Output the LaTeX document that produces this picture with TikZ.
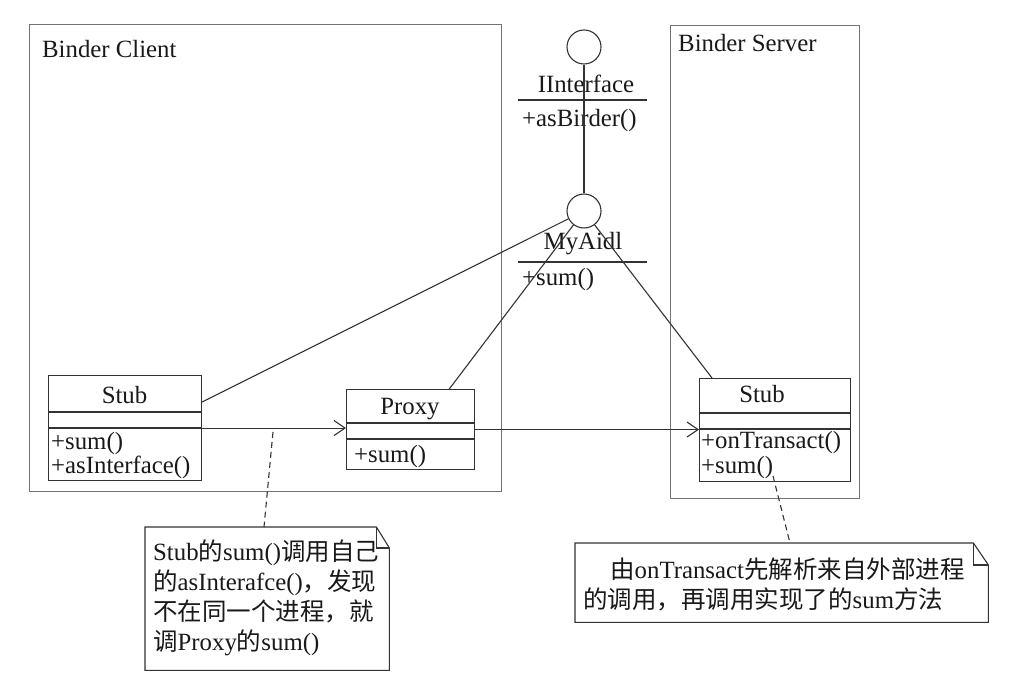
\documentclass[tikz,border=0pt]{standalone}
\usepackage{fontspec}
\setmainfont{Liberation Serif}
\newfontfamily\cjkf{Noto Sans CJK SC}
\usetikzlibrary{calc,arrows.meta}
\newcommand{\zh}[1]{{\cjkf\fontsize{24.5}{30}\selectfont #1}}
\begin{document}
\begin{tikzpicture}[x=1pt,y=-1pt,
  txt/.style={inner sep=0pt,anchor=base west,text=black!90,font=\fontsize{24.8}{30}\selectfont},
  ctxt/.style={txt,anchor=base},
  frame/.style={draw=black!55,line width=1.4pt,anchor=north west,inner sep=0pt},
  cls/.style={draw=black!80,line width=1.1pt,anchor=north west,inner sep=0pt},
  ln/.style={draw=black!80,line width=1.1pt},
  iface/.style={circle,draw=black!80,line width=1.1pt,minimum size=34pt,inner sep=0pt},
  arr/.style={ln,-{Straight Barb[length=11pt,width=15pt,line width=1.1pt]}},
  dsh/.style={ln,dash pattern=on 6pt off 4pt},
  blank/.style={anchor=north west,inner sep=0pt}
]
\useasboundingbox[fill=white] (0,0) rectangle (1014,684);

% frames
\node[frame,minimum width=472pt,minimum height=467pt] (client) at (29,24) {};
\node[frame,minimum width=189pt,minimum height=473pt] (server) at (670,25) {};
\node[txt] (clientlbl) at (42,58) {Binder Client};
\node[txt] (serverlbl) at (678,52) {Binder Server};

% interfaces
\node[iface] (iif) at (584,47) {};
\node[ctxt] (iiftxt) at (586,93) {IInterface};
\draw[ln] ($(iif)+(-66,53)$) -- ($(iif)+(63,53)$);
\node[txt] (iifop) at (522,127) {+asBirder()};

\node[iface] (aidl) at (584,211) {};
\node[ctxt] (aidltxt) at (583,250) {MyAidl};
\draw[ln] ($(aidl)+(-66,51)$) -- ($(aidl)+(63,51)$);
\node[txt] (aidlop) at (522,286) {+sum()};
\draw[ln] (iif) -- (aidl);

% client stub
\node[cls,minimum width=153pt,minimum height=105pt] (stubC) at (48,375) {};
\draw[ln] ($(stubC.north west)+(0,37)$) -- ($(stubC.north east)+(0,37)$);
\draw[ln] ($(stubC.north west)+(0,53)$) -- ($(stubC.north east)+(0,53)$);
\node[ctxt] (stubCname) at (124.5,403) {Stub};
\node[txt] (stubCop1) at (51,449) {+sum()};
\node[txt] (stubCop2) at (51,473) {+asInterface()};

% proxy
\node[cls,minimum width=128pt,minimum height=80pt] (proxy) at (346,389) {};
\draw[ln] ($(proxy.north west)+(0,34)$) -- ($(proxy.north east)+(0,34)$);
\draw[ln] ($(proxy.north west)+(0,50)$) -- ($(proxy.north east)+(0,50)$);
\node[ctxt] (proxyname) at (410,414) {Proxy};
\node[txt] (proxyop) at (354,462) {+sum()};

% server stub
\node[cls,minimum width=151pt,minimum height=103pt] (stubS) at (699,378) {};
\draw[ln] ($(stubS.north west)+(0,35)$) -- ($(stubS.north east)+(0,35)$);
\draw[ln] ($(stubS.north west)+(0,51)$) -- ($(stubS.north east)+(0,51)$);
\node[ctxt] (stubSname) at (762,402) {Stub};
\node[txt] (stubSop1) at (701,448) {+onTransact()};
\node[txt] (stubSop2) at (701,473) {+sum()};

% connectors to MyAidl
\draw[ln] ($(stubC.north east)+(0,27)$) -- (aidl);
\draw[ln] ($(proxy.north west)!0.8!(proxy.north east)$) -- (aidl);
\draw[ln] ($(stubS.north west)+(13,0)$) -- (aidl);

% calls
\draw[arr] (stubC.east) -- (stubC.east -| proxy.west);
\draw[arr] (proxy.east) -- (proxy.east -| stubS.west);

% notes
\node[blank,minimum width=244pt,minimum height=143pt] (noteL) at (145,527) {};
\draw[ln] (noteL.south west) -- (noteL.north west) -- ($(noteL.north east)+(-13,0)$)
  -- ($(noteL.north east)+(0,21)$) -- (noteL.south east) -- cycle;
\draw[ln] ($(noteL.north east)+(-13,0)$) -- ++(0,21) -- ($(noteL.north east)+(0,21)$);
\node[txt] (nl1) at (153,560) {Stub\zh{的}sum()\zh{调用自己}};
\node[txt] (nl2) at (153,590) {\zh{的}asInterafce()\zh{，发现}};
\node[txt] (nl3) at (153,620) {\zh{不在同一个进程，就}};
\node[txt] (nl4) at (153,650) {\zh{调}Proxy\zh{的}sum()};

\node[blank,minimum width=413pt,minimum height=79pt] (noteR) at (575,543) {};
\draw[ln] (noteR.south west) -- (noteR.north west) -- ($(noteR.north east)+(-15,0)$)
  -- ($(noteR.north east)+(0,22)$) -- (noteR.south east) -- cycle;
\draw[ln] ($(noteR.north east)+(-15,0)$) -- ++(0,22) -- ($(noteR.north east)+(0,22)$);
\node[txt] (nr1) at (610,578) {\zh{由}onTransact\zh{先解析来自外部进程}};
\node[txt] (nr2) at (583,608) {\zh{的调用，再调用实现了的}sum\zh{方法}};

% anchors of notes
\coordinate (dL) at (273,432);
\coordinate (dR) at (773,476);
\draw[dsh] (dL) -- ($(noteL.north west)+(119,0)$);
\draw[dsh] (dR) -- ($(noteR.north west)+(215,0)$);
\end{tikzpicture}
\end{document}
